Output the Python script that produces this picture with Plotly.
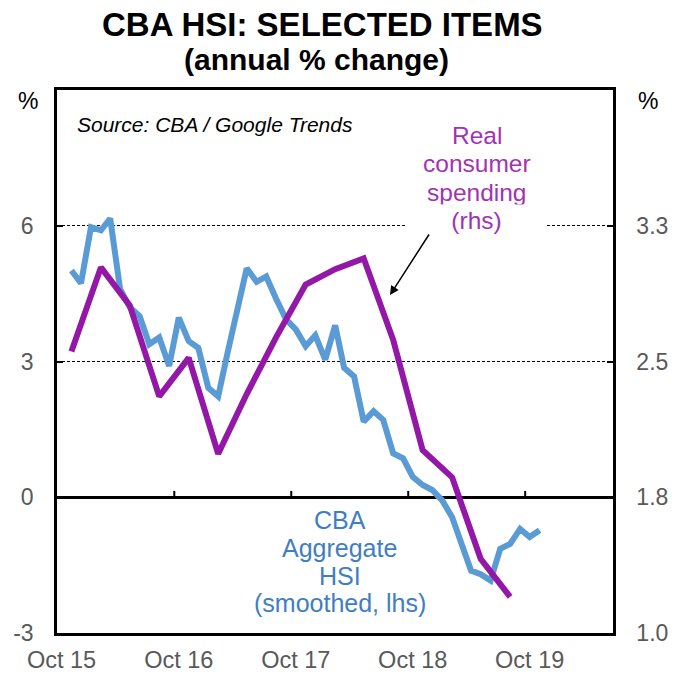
import pandas as pd
import plotly.graph_objects as go

# ---- data ----
hsi_months = [str(p) for p in pd.period_range("2015-11", "2019-11", freq="M")]
hsi_values = [5.01, 4.73, 5.97, 5.90, 6.16, 4.60, 4.20, 4.00, 3.38, 3.53,
              2.90, 3.97, 3.45, 3.30, 2.42, 2.23, 3.15, 4.10, 5.06, 4.76,
              4.88, 4.38, 3.93, 3.71, 3.34, 3.58, 3.04, 3.80, 2.86, 2.67,
              1.67, 1.90, 1.71, 0.97, 0.86, 0.45, 0.27, 0.16, -0.07, -0.44,
              -1.03, -1.62, -1.70, -1.84, -1.14, -1.03, -0.70, -0.88, -0.73]
spend_months = hsi_months[0:46:3]
spend_values = [2.555, 3.02, 2.81, 2.307, 2.52, 1.99, 2.32, 2.635,
                2.925, 3.01, 3.07, 2.62, 2.01, 1.86, 1.41, 1.20]

x_tick_years = ["2015", "2016", "2017", "2018", "2019"]
x_tick_labels = ["Oct 15", "Oct 16", "Oct 17", "Oct 18", "Oct 19"]
left_ticks = [-3, 0, 3, 6, 9]
left_tick_labels = ["-3", "0", "3", "6", ""]
right_ticks = [1.0, 1.75, 2.5, 3.25, 4.0]
right_tick_labels = ["1.0", "1.8", "2.5", "3.3", ""]

spend_label_lines = ["Real", "consumer", "spending", "(rhs)"]
hsi_label_lines = ["CBA", "Aggregate", "HSI", "(smoothed, lhs)"]

FONT = "Liberation Sans, Arial, sans-serif"
BLUE = "#5B9BD5"
PURPLE = "#9418A8"
BLUE_TXT = "#3F7EC2"
PURPLE_TXT = "#A232B4"
TICK_GREY = "#595959"

# plot area in page pixels (for placing annotations)
L, R, T, B = 57, 60, 90, 42
W, H = 673, 675
PW, PH = W - L - R, H - T - B


def px(xp):
    return (xp - L) / PW


def py(yp):
    return (H - B - yp) / PH


def mid_month(m):
    return pd.Timestamp(m + "-15")


fig = go.Figure()
fig.add_trace(go.Scatter(
    x=[mid_month(m) for m in hsi_months], y=hsi_values,
    mode="lines", line=dict(color=BLUE, width=6), yaxis="y", hoverinfo="skip"))
fig.add_trace(go.Scatter(
    x=[mid_month(m) for m in spend_months], y=spend_values,
    mode="lines", line=dict(color=PURPLE, width=6), yaxis="y2", hoverinfo="skip"))

# small tick marks on the zero line
for yr in x_tick_years[1:]:
    fig.add_shape(type="line", xref="x", yref="y",
                  x0=pd.Timestamp(yr + "-10-01"), x1=pd.Timestamp(yr + "-10-01"),
                  y0=0, y1=0.14, line=dict(color="black", width=2))

fig.update_layout(
    width=W, height=H,
    margin=dict(l=L, r=R, t=T, b=B, autoexpand=False),
    paper_bgcolor="white", plot_bgcolor="white",
    showlegend=False,
    font=dict(family=FONT, size=23, color="black"),
    xaxis=dict(
        type="date", automargin=False,
        range=[pd.Timestamp("2015-10-01"), pd.Timestamp("2020-07-01")],
        tickvals=[pd.Timestamp(y + "-10-15") for y in x_tick_years],
        ticktext=x_tick_labels,
        ticks="", showgrid=False, zeroline=False,
        showline=True, mirror=True, linecolor="black", linewidth=2.5,
        tickfont=dict(size=23.5, color=TICK_GREY),
        ticklabelstandoff=4,
    ),
    yaxis=dict(
        automargin=False,
        range=[-3, 9], tickvals=left_ticks, ticktext=left_tick_labels,
        ticks="inside", ticklen=6, tickcolor="black", tickwidth=1.5,
        showgrid=True, gridcolor="black", gridwidth=1, griddash="3px,2px",
        zeroline=True, zerolinecolor="black", zerolinewidth=2.5,
        showline=True, linecolor="black", linewidth=2.5,
        tickfont=dict(size=23, color=TICK_GREY),
        ticklabelstandoff=16,
    ),
    yaxis2=dict(
        automargin=False,
        range=[1.0, 4.0], tickvals=right_ticks, ticktext=right_tick_labels,
        overlaying="y", side="right",
        ticks="inside", ticklen=6, tickcolor="black", tickwidth=1.5,
        showgrid=False, zeroline=False,
        showline=True, linecolor="black", linewidth=2.5,
        tickfont=dict(size=23, color=TICK_GREY),
        ticklabelstandoff=16,
    ),
)

ann = []
ann.append(dict(xref="paper", yref="paper", x=px(322.5), y=py(24), xanchor="center", yanchor="middle",
                text="<b>CBA HSI: SELECTED ITEMS</b>", showarrow=False,
                font=dict(size=33, color="black", family=FONT)))
ann.append(dict(xref="paper", yref="paper", x=px(316.5), y=py(60), xanchor="center", yanchor="middle",
                text="<b>(annual % change)</b>", showarrow=False,
                font=dict(size=30, color="black", family=FONT)))
ann.append(dict(xref="paper", yref="paper", x=px(28), y=py(101), xanchor="center", yanchor="middle",
                text="%", showarrow=False, font=dict(size=23, color="black", family=FONT)))
ann.append(dict(xref="paper", yref="paper", x=px(648), y=py(101), xanchor="center", yanchor="middle",
                text="%", showarrow=False, font=dict(size=23, color="black", family=FONT)))
ann.append(dict(xref="paper", yref="paper", x=px(75), y=py(125),
                xanchor="left", yanchor="middle",
                text="<i>Source: CBA / Google Trends</i>", showarrow=False,
                font=dict(size=21, color="black", family=FONT)))

for i, (line, yc) in enumerate(zip(spend_label_lines, [135, 163.5, 192, 220.5])):
    extra = dict(bgcolor="white", width=135, borderpad=2) if i == len(spend_label_lines) - 1 else {}
    ann.append(dict(xref="paper", yref="paper", x=px(476.7), y=py(yc), xanchor="center", yanchor="middle",
                    text=line, showarrow=False,
                    font=dict(size=24.5, color=PURPLE_TXT, family=FONT), **extra))
for line, yc in zip(hsi_label_lines, [520, 548, 575.5, 603]):
    ann.append(dict(xref="paper", yref="paper", x=px(339.5), y=py(yc), xanchor="center", yanchor="middle",
                    text=line, showarrow=False,
                    font=dict(size=25, color=BLUE_TXT, family=FONT)))

ann.append(dict(xref="paper", yref="paper", x=px(390), y=py(295),
                ax=40, ay=-62, text="", showarrow=True, arrowhead=2, arrowsize=1.2,
                arrowwidth=1.5, arrowcolor="black", standoff=0))
fig.update_layout(annotations=ann)

fig.write_html("out.html", config={"displayModeBar": False},
               post_script="document.body.style.margin='0';")
